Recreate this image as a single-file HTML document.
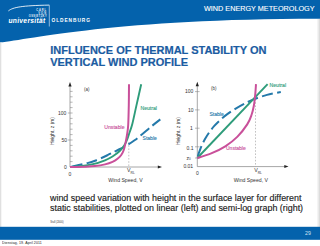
<!DOCTYPE html>
<html><head><meta charset="utf-8">
<style>
html,body{margin:0;padding:0;}
body{width:320px;height:246px;overflow:hidden;position:relative;background:#fff;font-family:"Liberation Sans",sans-serif;}
.a{position:absolute;white-space:nowrap;line-height:1;}
svg{position:absolute;left:0;top:0;}
</style></head><body>
<svg width="320" height="246" viewBox="0 0 320 246">
  <path d="M0,0 H320 V18.7 C120,18.5 30,39 0,42.6 Z" fill="#0462ac"/>
  <path d="M8.4,10.9 C13,7.2 22,5.6 49.3,5.1" fill="none" stroke="#fff" stroke-width="0.85"/>
  <line x1="49.3" y1="5.2" x2="49.3" y2="26.5" stroke="#cfe0f2" stroke-width="0.7"/>
  <rect x="317" y="19" width="1" height="208" fill="#f4f4f4"/>
  <rect x="318" y="19" width="1" height="208" fill="#eaeaea"/>
  <rect x="319" y="19" width="1" height="208" fill="#dcdcdc"/>
  <rect x="0" y="42.5" width="1" height="184.5" fill="#e0e0e0"/>
  <rect x="1" y="42.6" width="1" height="184.4" fill="#f6f6f6"/>
  <rect x="0" y="226.8" width="320" height="13" fill="#0462ac"/>

  <g stroke="#8a8a8a" stroke-width="0.75" fill="none">
    <line x1="70" y1="167" x2="70" y2="85"/>
    <line x1="70" y1="167" x2="159" y2="167"/>
  </g>
  <path d="M70,82 L68.4,86.5 L71.6,86.5 Z" fill="#222"/>
  <path d="M162,167 L157.8,165.5 L157.8,168.5 Z" fill="#222"/>
  <path d="M70,161.6h2.6M70,156.2h2.6M70,150.8h2.6M70,145.4h2.6M67.8,140.0h4.8M70,134.6h2.6M70,129.2h2.6M70,123.8h2.6M70,118.4h2.6M67.8,113.0h4.8M70,107.6h2.6M70,102.2h2.6M70,96.8h2.6M70,91.4h2.6" stroke="#888" stroke-width="0.6"/>
  <line x1="128.8" y1="142" x2="128.8" y2="167" stroke="#999" stroke-width="0.6" stroke-dasharray="1.6,1.6"/>
  <path d="M70.00,167.00 C72.71,166.40 82.08,164.43 86.25,163.40 C90.42,162.37 91.46,162.17 95.00,160.80 C98.54,159.43 103.96,156.87 107.50,155.20 C111.04,153.53 112.92,152.50 116.25,150.80 C119.58,149.10 124.38,146.80 127.50,145.00 C130.62,143.20 132.71,141.67 135.00,140.00 C137.29,138.33 138.38,137.37 141.25,135.00 C144.12,132.63 149.02,128.40 152.20,125.80 C155.38,123.20 158.95,120.47 160.30,119.40" fill="none" stroke="#2479aa" stroke-width="2" stroke-dasharray="11,4.3" stroke-dashoffset="-1.7"/>
  <path d="M70.00,167.00 C71.67,166.88 76.17,166.77 80.00,166.30 C83.83,165.83 88.83,165.20 93.00,164.20 C97.17,163.20 101.75,161.58 105.00,160.30 C108.25,159.02 110.00,158.08 112.50,156.50 C115.00,154.92 118.00,152.72 120.00,150.80 C122.00,148.88 123.30,146.88 124.50,145.00 C125.70,143.12 126.42,141.42 127.20,139.50 C127.98,137.58 128.35,136.08 129.20,133.50 C130.05,130.92 131.10,128.65 132.30,124.00 C133.50,119.35 134.92,112.22 136.40,105.60 C137.88,98.98 140.40,87.85 141.20,84.30" fill="none" stroke="#2e9c7a" stroke-width="1.9"/>
  <path d="M70.00,167.00 C72.50,166.95 80.83,166.85 85.00,166.70 C89.17,166.55 91.67,166.48 95.00,166.10 C98.33,165.72 102.08,165.10 105.00,164.40 C107.92,163.70 110.42,162.84 112.50,161.90 C114.58,160.96 116.04,159.90 117.50,158.75 C118.96,157.60 120.21,156.46 121.25,155.00 C122.29,153.54 123.03,152.08 123.75,150.00 C124.47,147.92 125.06,145.00 125.60,142.50 C126.14,140.00 126.57,137.92 127.00,135.00 C127.43,132.08 127.90,130.00 128.20,125.00 C128.50,120.00 128.67,111.78 128.80,105.00 C128.93,98.22 128.97,87.75 129.00,84.30" fill="none" stroke="#c9509a" stroke-width="2"/>

  <g stroke="#8a8a8a" stroke-width="0.75" fill="none">
    <line x1="197.3" y1="166.6" x2="197.3" y2="85"/>
    <line x1="197.3" y1="166.6" x2="286" y2="166.6"/>
  </g>
  <path d="M197.3,81.8 L195.7,86.3 L198.9,86.3 Z" fill="#222"/>
  <path d="M288.5,166.6 L284.3,165.1 L284.3,168.1 Z" fill="#222"/>
  <path d="M195,91.6h4.6M195,109.9h4.6M195,128.2h4.6M195,146.8h4.6M195,158h4.6" stroke="#888" stroke-width="0.6"/>
  <line x1="255.5" y1="99" x2="255.5" y2="166.5" stroke="#999" stroke-width="0.6" stroke-dasharray="1.6,1.6"/>
  <path d="M197.30,158.00 C197.55,157.19 198.30,154.66 198.80,153.17 C199.30,151.68 199.72,150.51 200.30,149.04 C200.88,147.57 201.47,146.10 202.30,144.34 C203.13,142.58 204.13,140.52 205.30,138.50 C206.47,136.48 207.80,134.31 209.30,132.22 C210.80,130.13 212.47,128.00 214.30,125.95 C216.13,123.90 218.13,121.86 220.30,119.90 C222.47,117.94 224.80,116.02 227.30,114.17 C229.80,112.32 232.47,110.53 235.30,108.80 C238.13,107.07 241.13,105.39 244.30,103.77 C247.47,102.15 250.52,100.55 254.30,99.07 C258.08,97.59 262.58,96.08 267.00,94.90 C271.42,93.72 278.50,92.48 280.80,92.00" fill="none" stroke="#2479aa" stroke-width="2" stroke-dasharray="11,4.3" stroke-dashoffset="-1.7"/>
  <path d="M197.3,158.0 L267.6,84.1" fill="none" stroke="#2e9c7a" stroke-width="1.9"/>
  <path d="M197.30,158.00 C199.52,157.28 205.93,155.65 210.60,153.70 C215.27,151.75 220.82,149.15 225.30,146.30 C229.78,143.45 233.85,140.25 237.50,136.60 C241.15,132.95 244.87,128.00 247.20,124.40 C249.53,120.80 250.40,118.07 251.50,115.00 C252.60,111.93 253.22,109.00 253.80,106.00 C254.38,103.00 254.70,99.67 255.00,97.00 C255.30,94.33 255.43,92.15 255.60,90.00 C255.77,87.85 255.93,85.08 256.00,84.10" fill="none" stroke="#c9509a" stroke-width="2"/>
</svg>

<div class="a" style="left:204px;top:5px;font-size:7.9px;color:#fff;-webkit-text-stroke:0.12px #fff;transform-origin:0 0;transform:scaleX(0.918);">WIND ENERGY METEOROLOGY</div>
<div class="a" style="left:36.3px;top:10.1px;font-size:2.6px;font-weight:bold;color:#e4eef8;letter-spacing:0.86px;">CARL</div>
<div class="a" style="left:38.3px;top:13.3px;font-size:2.6px;font-weight:bold;color:#e4eef8;letter-spacing:1.09px;">VON</div>
<div class="a" style="left:28.8px;top:16.3px;font-size:2.6px;font-weight:bold;color:#e4eef8;letter-spacing:0.39px;">OSSIETZKY</div>
<div class="a" style="left:8.4px;top:17.4px;font-size:7.5px;font-weight:bold;color:#fff;letter-spacing:0.3px;transform-origin:0 100%;transform:scaleX(0.9) skewX(-7deg);">universität</div>
<div class="a" style="left:51.5px;top:19.3px;font-size:4.8px;font-weight:bold;color:#fff;letter-spacing:0.95px;">OLDENBURG</div>

<div class="a" style="left:50.2px;top:44.3px;font-size:11px;font-weight:bold;color:#1b5ca2;-webkit-text-stroke:0.2px #1b5ca2;line-height:12px;">INFLUENCE OF THERMAL STABILITY ON<br>VERTICAL WIND PROFILE</div>

<div class="a" style="left:84px;top:88.2px;font-size:4.5px;color:#333;">(a)</div>
<div class="a" style="left:58px;top:110.7px;font-size:5px;color:#333;">100</div>
<div class="a" style="left:61.5px;top:137.6px;font-size:5px;color:#333;">50</div>
<div class="a" style="left:64px;top:164.5px;font-size:5px;color:#333;">0</div>
<div class="a" style="left:68.5px;top:171.7px;font-size:5px;color:#333;">0</div>
<div class="a" style="left:53.3px;top:130.8px;font-size:4.9px;color:#333;transform:translate(-50%,-50%) rotate(-90deg);">Height, z (m)</div>
<div class="a" style="left:140.5px;top:105.8px;font-size:5.1px;color:#2e9c7a;-webkit-text-stroke:0.12px #2e9c7a;">Neutral</div>
<div class="a" style="left:104.3px;top:124.5px;font-size:5.15px;color:#c9509a;-webkit-text-stroke:0.12px #c9509a;">Unstable</div>
<div class="a" style="left:142.6px;top:136.4px;font-size:5px;color:#2479aa;-webkit-text-stroke:0.12px #2479aa;">Stable</div>
<div class="a" style="left:127px;top:168.2px;font-size:5.3px;color:#333;">V<span style="font-size:3.3px;position:relative;top:1.6px;">RL</span></div>
<div class="a" style="left:108.3px;top:178.4px;font-size:5.15px;color:#333;">Wind Speed, V</div>

<div class="a" style="left:211px;top:86.6px;font-size:4.5px;color:#333;">(b)</div>
<div class="a" style="left:185px;top:89.3px;font-size:5px;color:#333;">100</div>
<div class="a" style="left:188px;top:107.6px;font-size:5px;color:#333;">10</div>
<div class="a" style="left:190px;top:126px;font-size:5px;color:#333;">1</div>
<div class="a" style="left:186.6px;top:145.6px;font-size:5px;color:#333;">0.1</div>
<div class="a" style="left:186.6px;top:155.5px;font-size:5px;color:#333;">z<span style="font-size:3px">0</span></div>
<div class="a" style="left:183.4px;top:164.2px;font-size:5px;color:#333;">0.01</div>
<div class="a" style="left:196px;top:171.3px;font-size:5px;color:#333;">0</div>
<div class="a" style="left:178.7px;top:130.6px;font-size:4.9px;color:#333;transform:translate(-50%,-50%) rotate(-90deg);">Height, z (m)</div>
<div class="a" style="left:269.6px;top:83.2px;font-size:5.1px;color:#2e9c7a;-webkit-text-stroke:0.12px #2e9c7a;">Neutral</div>
<div class="a" style="left:226px;top:145.8px;font-size:5px;color:#c9509a;-webkit-text-stroke:0.12px #c9509a;">Unstable</div>
<div class="a" style="left:209.5px;top:111.9px;font-size:5px;color:#2479aa;-webkit-text-stroke:0.12px #2479aa;">Stable</div>
<div class="a" style="left:254.2px;top:168.2px;font-size:5.3px;color:#333;">V<span style="font-size:3.3px;position:relative;top:1.6px;">RL</span></div>
<div class="a" style="left:233.7px;top:177.5px;font-size:5.15px;color:#333;">Wind Speed, V</div>

<div class="a" style="left:49.5px;top:193.3px;font-size:9.5px;color:#1a1a1a;-webkit-text-stroke:0.15px #1a1a1a;line-height:10px;transform-origin:0 0;transform:scaleX(0.938);">wind speed variation with height in the surface layer for different<br>static stabilities, plotted on linear (left) and semi-log graph (right)</div>
<div class="a" style="left:50.3px;top:221.6px;font-size:2.6px;color:#333;">Stull (2000)</div>

<div class="a" style="left:305px;top:230.8px;font-size:5.8px;color:#d0e2f4;transform-origin:0 0;transform:scaleX(0.9);">29</div>
<div class="a" style="left:1.5px;top:241.2px;font-size:4.4px;color:#222;letter-spacing:0.1px;transform-origin:0 0;transform:scaleX(0.82);">Dienstag, 19. April 2011</div>
</body></html>
